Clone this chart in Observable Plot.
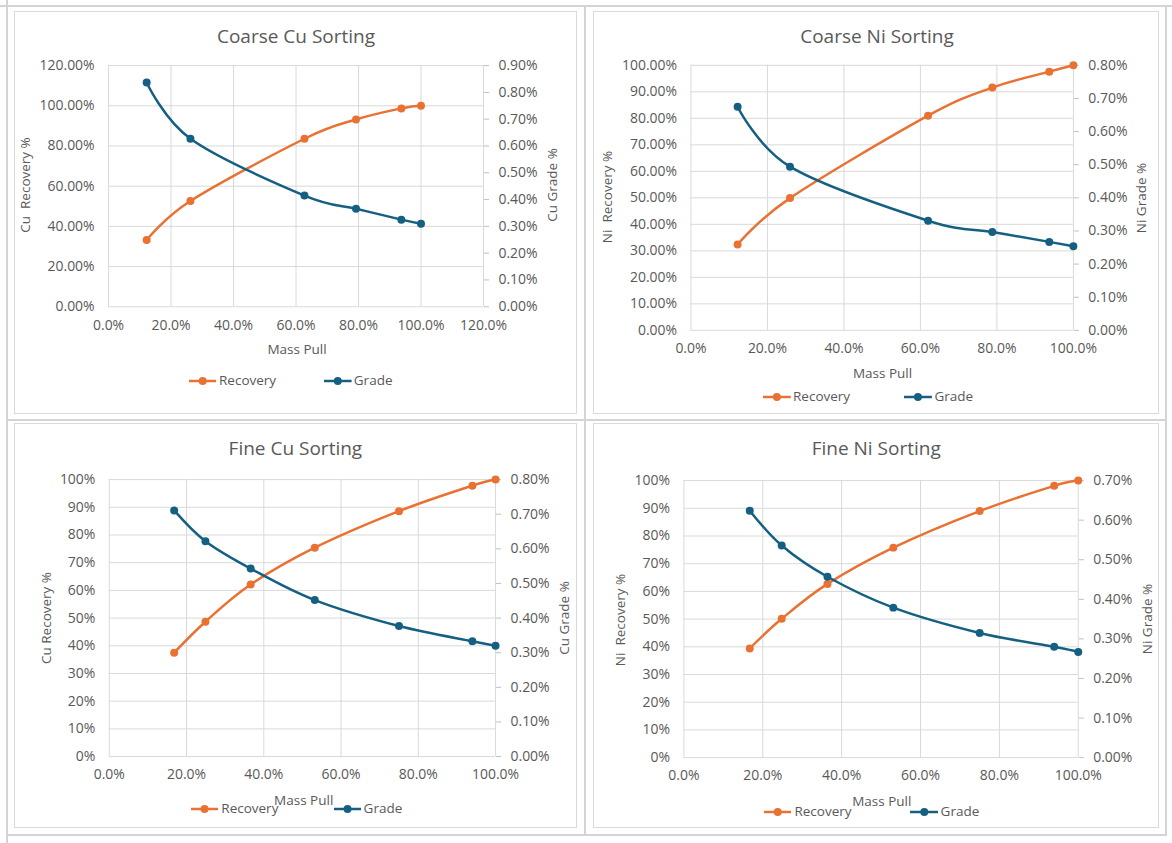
<!DOCTYPE html>
<html><head><meta charset="utf-8">
<script src="https://cdn.jsdelivr.net/npm/d3@7"></script>
<script src="https://cdn.jsdelivr.net/npm/@observablehq/plot@0.6"></script>
<style>
body{margin:0;background:#fff;width:1172px;height:843px;position:relative;overflow:hidden;font-family:"Open Sans",sans-serif;color:#595959}
.line{position:absolute;background:#d4d4d4}
.panel{position:absolute;border:1px solid #dadada;box-sizing:border-box}
.panel svg{position:absolute;left:-1px;top:-1px;overflow:visible}
.t{position:absolute;white-space:pre;transform:translate(-50%,-50%);line-height:1;font-size:13.5px;color:#595959}
.title{font-size:19px}
.rot{transform:translate(-50%,-50%) rotate(-90deg)}
.lg{position:absolute;white-space:pre;line-height:1;font-size:13.5px;color:#595959;transform:translateY(-50%)}
.sw{position:absolute;transform:translateY(-50%)}
</style></head><body>
<script>
// ---- data (percent units) ----
const coarseCuMass  = [12.2, 26.2, 62.7, 79.2, 93.7, 100];
const coarseCuRec   = [33.2, 52.6, 83.6, 93.2, 98.7, 100];
const coarseCuGrade = [0.837, 0.627, 0.415, 0.366, 0.325, 0.310];

const coarseNiMass  = [12.2, 25.9, 62.0, 78.8, 93.7, 100];
const coarseNiRec   = [32.4, 49.9, 81.0, 91.6, 97.6, 100];
const coarseNiGrade = [0.675, 0.494, 0.331, 0.297, 0.267, 0.254];

const fineCuMass  = [16.8, 24.9, 36.6, 53.2, 75.0, 94.0, 100];
const fineCuRec   = [37.5, 48.7, 62.1, 75.4, 88.6, 97.8, 100];
const fineCuGrade = [0.711, 0.622, 0.543, 0.452, 0.377, 0.333, 0.320];

const fineNiMass  = [16.7, 24.8, 36.4, 53.1, 75.0, 93.9, 100];
const fineNiRec   = [39.4, 50.1, 62.7, 75.8, 89.0, 98.1, 100];
const fineNiGrade = [0.624, 0.536, 0.457, 0.379, 0.315, 0.280, 0.267];

const xTicks120 = [0, 20, 40, 60, 80, 100, 120];
const xTicks100 = [0, 20, 40, 60, 80, 100];
const yTicks120 = [0, 20, 40, 60, 80, 100, 120];
const yTicks100 = [0, 10, 20, 30, 40, 50, 60, 70, 80, 90, 100];
const gradeTicks09 = [0, 0.1, 0.2, 0.3, 0.4, 0.5, 0.6, 0.7, 0.8, 0.9];
const gradeTicks08 = [0, 0.1, 0.2, 0.3, 0.4, 0.5, 0.6, 0.7, 0.8];
const gradeTicks07 = [0, 0.1, 0.2, 0.3, 0.4, 0.5, 0.6, 0.7];

const titles = ["Coarse Cu Sorting", "Coarse Ni Sorting", "Fine Cu Sorting", "Fine Ni Sorting"];
const leftLabels = ["Cu  Recovery %", "Ni  Recovery %", "Cu Recovery %", "Ni  Recovery %"];
const rightLabels = ["Cu Grade %", "Ni Grade %", "Cu Grade %", "Ni Grade %"];
const seriesNames = ["Recovery", "Grade"];
const xLabel = "Mass Pull";

const ORANGE = "#E97132";
const BLUE = "#156082";
const FONT = "'Open Sans', sans-serif";
const TICK_FS = 14;

// table lines
function hline(x, y, w){ const d=document.createElement("div"); d.className="line"; Object.assign(d.style,{left:x+"px",top:y+"px",width:w+"px",height:"2px"}); document.body.appendChild(d); }
function vline(x, y, h){ const d=document.createElement("div"); d.className="line"; Object.assign(d.style,{left:x+"px",top:y+"px",width:"2px",height:h+"px"}); document.body.appendChild(d); }
hline(0, 5, 1172); hline(6, 419, 1161); hline(6, 834, 1161);
vline(6, 0, 843); vline(584, 5, 831); vline(1165, 5, 831);

function text(str, cx, cy, cls){
  const d=document.createElement("div"); d.className="t "+(cls||""); d.textContent=str;
  d.style.left=cx+"px"; d.style.top=cy+"px"; document.body.appendChild(d);
}
function legendItem(x1, x2, xt, y, color, label){
  const w = x2-x1;
  const s = document.createElementNS("http://www.w3.org/2000/svg","svg");
  s.setAttribute("width", w); s.setAttribute("height", 10); s.setAttribute("class","sw");
  s.style.left=x1+"px"; s.style.top=y+"px"; s.style.position="absolute";
  s.innerHTML = `<line x1="0" y1="5" x2="${w}" y2="5" stroke="${color}" stroke-width="2.5"/><circle cx="${w/2}" cy="5" r="4" fill="${color}"/>`;
  document.body.appendChild(s);
  const d=document.createElement("div"); d.className="lg"; d.textContent=label;
  d.style.left=xt+"px"; d.style.top=y+"px"; document.body.appendChild(d);
}

const panels = [
  {box:{l:14,t:11,w:563,h:403}, m:{l:94.4,r:92.3,t:54.3,b:106.7}, mass:coarseCuMass, rec:coarseCuRec, grade:coarseCuGrade,
   xMax:120, xTicks:xTicks120, yMax:120, yTicks:yTicks120, yFmt:d=>d.toFixed(2)+"%", gMax:0.9, gTicks:gradeTicks09,
   title:[296,36], xl:[297,350], ll:[26.3,185], rl:[552.5,185], lgY:381, lg:[[189,216.4,219],[324.4,352,353.8]]},
  {box:{l:593,t:11,w:566,h:403}, m:{l:97.8,r:84.4,t:54,b:83}, mass:coarseNiMass, rec:coarseNiRec, grade:coarseNiGrade,
   xMax:100, xTicks:xTicks100, yMax:100, yTicks:yTicks100, yFmt:d=>d.toFixed(2)+"%", gMax:0.8, gTicks:gradeTicks08,
   title:[877,36], xl:[882.5,374], ll:[608.4,197], rl:[1142.4,198], lgY:396.7, lg:[[763.2,791,793],[904.4,932.3,934.5]]},
  {box:{l:14,t:423,w:563,h:405}, m:{l:95.1,r:80.2,t:56.3,b:70.7}, mass:fineCuMass, rec:fineCuRec, grade:fineCuGrade,
   xMax:100, xTicks:xTicks100, yMax:100, yTicks:yTicks100, yFmt:d=>d.toFixed(0)+"%", gMax:0.8, gTicks:gradeTicks08,
   title:[295.4,447.7], xl:[303.7,800.7], ll:[47,618.3], rl:[564.5,617.7], lgY:809.3, lg:[[191.2,218.3,221.3],[333.5,360.6,363.6]]},
  {box:{l:593,t:423,w:566,h:405}, m:{l:90.7,r:79.5,t:57.3,b:69.7}, mass:fineNiMass, rec:fineNiRec, grade:fineNiGrade,
   xMax:100, xTicks:xTicks100, yMax:100, yTicks:yTicks100, yFmt:d=>d.toFixed(0)+"%", gMax:0.7, gTicks:gradeTicks07,
   title:[876.2,447.7], xl:[881.8,801.7], ll:[620.8,620], rl:[1148,619], lgY:811.7, lg:[[763.9,791.4,794.4],[909.7,938.3,940.6]]}
];

panels.forEach((p, i) => {
  const div = document.createElement("div"); div.className="panel";
  Object.assign(div.style,{left:p.box.l+"px",top:p.box.t+"px",width:p.box.w+"px",height:p.box.h+"px"});
  document.body.appendChild(div);
  const k = p.yMax / p.gMax;
  const rec = p.mass.map((m, j) => ({x: m, y: p.rec[j]}));
  const gr = p.mass.map((m, j) => ({x: m, y: p.grade[j] * k}));
  const svg = Plot.plot({
    width: p.box.w, height: p.box.h,
    marginLeft: p.m.l, marginRight: p.m.r, marginTop: p.m.t, marginBottom: p.m.b,
    x: {domain: [0, p.xMax]}, y: {domain: [0, p.yMax]},
    style: {fontFamily: FONT, fontSize: TICK_FS + "px", color: "#595959", background: "transparent", overflow: "visible"},
    marks: [
      Plot.gridY(p.yTicks, {stroke: "#d9d9d9", strokeOpacity: 1, strokeWidth: 1}),
      Plot.gridX(p.xTicks, {stroke: "#d9d9d9", strokeOpacity: 1, strokeWidth: 1}),
      Plot.axisY(p.yTicks, {anchor: "left", tickSize: 0, tickPadding: 14, tickFormat: p.yFmt, label: null, fontSize: TICK_FS}),
      Plot.axisY(p.gTicks.map(g => g * k), {anchor: "right", tickSize: 5, tickPadding: 10, stroke: "#bfbfbf", fill: "#595959",
        tickFormat: d => (d / k).toFixed(2) + "%", label: null, fontSize: TICK_FS}),
      Plot.axisX(p.xTicks, {anchor: "bottom", tickSize: 0, tickPadding: 13, tickFormat: d => d.toFixed(1) + "%", label: null, fontSize: TICK_FS}),
      Plot.line(rec, {x: "x", y: "y", curve: "cardinal", stroke: ORANGE, strokeWidth: 2.5}),
      Plot.dot(rec, {x: "x", y: "y", r: 4, fill: ORANGE}),
      Plot.line(gr, {x: "x", y: "y", curve: "cardinal", stroke: BLUE, strokeWidth: 2.5}),
      Plot.dot(gr, {x: "x", y: "y", r: 4, fill: BLUE})
    ]
  });
  div.appendChild(svg);
  text(titles[i], p.title[0], p.title[1], "title");
  text(xLabel, p.xl[0], p.xl[1]);
  text(leftLabels[i], p.ll[0], p.ll[1], "rot");
  text(rightLabels[i], p.rl[0], p.rl[1], "rot");
  legendItem(p.lg[0][0], p.lg[0][1], p.lg[0][2], p.lgY, ORANGE, seriesNames[0]);
  legendItem(p.lg[1][0], p.lg[1][1], p.lg[1][2], p.lgY, BLUE, seriesNames[1]);
});
</script></body></html>
